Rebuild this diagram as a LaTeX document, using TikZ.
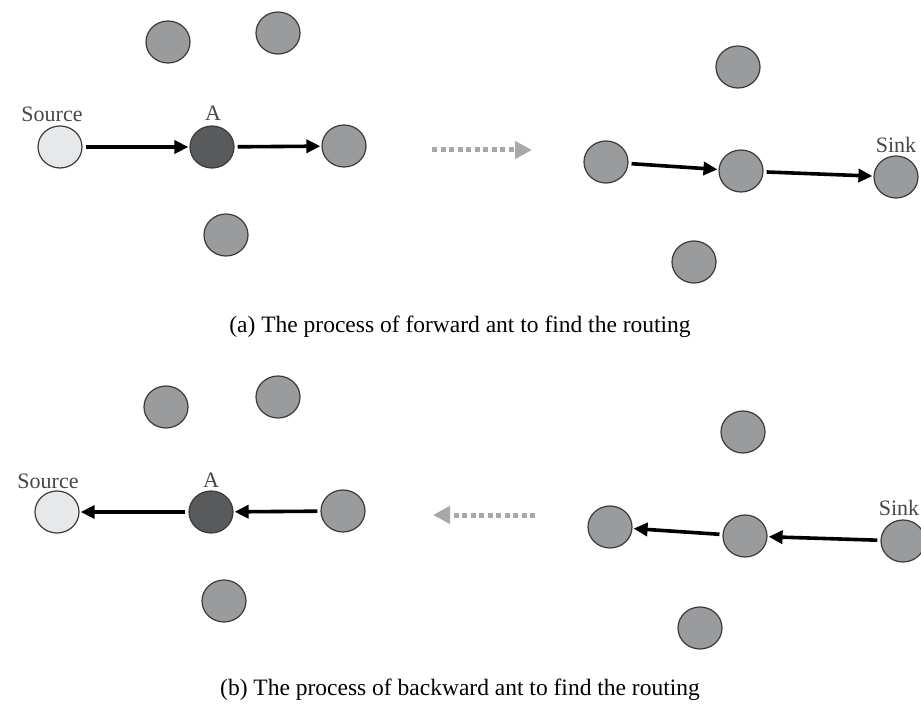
\documentclass[tikz,border=0pt]{standalone}
\usepackage{fontspec}
\setmainfont{Liberation Serif}
\usetikzlibrary{arrows.meta,shapes.geometric}
\definecolor{ndgray}{HTML}{9A9B9D}
\definecolor{srcfill}{HTML}{E6E8EA}
\definecolor{hubfill}{HTML}{585A5C}
\definecolor{flowgray}{HTML}{A8A8AA}
\definecolor{edgegray}{HTML}{3A3A3A}
\begin{document}
\begin{tikzpicture}[x=1pt,y=-1pt,
  nd/.style={ellipse,draw=edgegray,line width=1.2pt,fill=ndgray,minimum width=44pt,minimum height=42pt,inner sep=0pt},
  srcnode/.style={nd,fill=srcfill},
  hubnode/.style={nd,fill=hubfill},
  lbl/.style={font=\fontsize{22}{24}\selectfont,text=black!72,inner sep=0pt},
  captext/.style={font=\fontsize{23.5}{26}\selectfont,inner sep=0pt},
  arr/.style={line width=3.6pt,-{Triangle[length=14pt,width=13pt]},shorten <=3pt,shorten >=1pt},
  flow/.style={draw=flowgray,line width=5pt,dash pattern=on 5pt off 3.5pt,-{Triangle[length=17pt,width=17pt]}}
]
\useasboundingbox (0,0) rectangle (921,708);
\clip (0,0) rectangle (921,708);
\fill[white] (0,0) rectangle (921,708);

% ---------- panel (a) ----------
\node[nd] (at1) at (168,42) {};
\node[nd] (at2) at (278,33) {};
\node[srcnode] (asrc) at (60,147) {};
\node[hubnode] (aA) at (212,147) {};
\node[nd] (ac3) at (344,146) {};
\node[nd] (ab1) at (226,235) {};
\node[nd] (ar1) at (738,67) {};
\node[nd] (ar2) at (606,162) {};
\node[nd] (ar3) at (741,171) {};
\node[nd] (asink) at (896,177) {};
\node[nd] (ar5) at (694,262) {};
\node[lbl] (asrcl) at (52,114) {Source};
\node[lbl] (aAl) at (213,113) {A};
\node[lbl] (asinkl) at (896,145) {Sink};
\draw[arr] (asrc) -- (aA);
\draw[arr] (aA) -- (ac3);
\draw[arr] (ar2) -- (ar3);
\draw[arr] (ar3) -- (asink);
\coordinate (afs) at (432,150);
\coordinate (afe) at (532,150);
\draw[flow] (afs) -- (afe);
\node[captext] (capa) at (460,327) {(a) The process of forward ant to find the routing};

% ---------- panel (b) ----------
\node[nd] (bt1) at (166,407) {};
\node[nd] (bt2) at (278,397) {};
\node[srcnode] (bsrc) at (57,512) {};
\node[hubnode] (bA) at (211,512) {};
\node[nd] (bc3) at (343,511) {};
\node[nd] (bb1) at (224,601) {};
\node[nd] (br1) at (743,432) {};
\node[nd] (br2) at (610,527) {};
\node[nd] (br3) at (745,536) {};
\node[nd] (bsink) at (903,541) {};
\node[nd] (br5) at (700,628) {};
\node[lbl] (bsrcl) at (48,481) {Source};
\node[lbl] (bAl) at (211,480) {A};
\node[lbl] (bsinkl) at (899,508) {Sink};
\draw[arr] (bA) -- (bsrc);
\draw[arr] (bc3) -- (bA);
\draw[arr] (br3) -- (br2);
\draw[arr] (bsink) -- (br3);
\coordinate (bfs) at (535,515);
\coordinate (bfe) at (433,515);
\draw[flow] (bfs) -- (bfe);
\node[captext] (capb) at (460,690) {(b) The process of backward ant to find the routing};
\end{tikzpicture}
\end{document}
